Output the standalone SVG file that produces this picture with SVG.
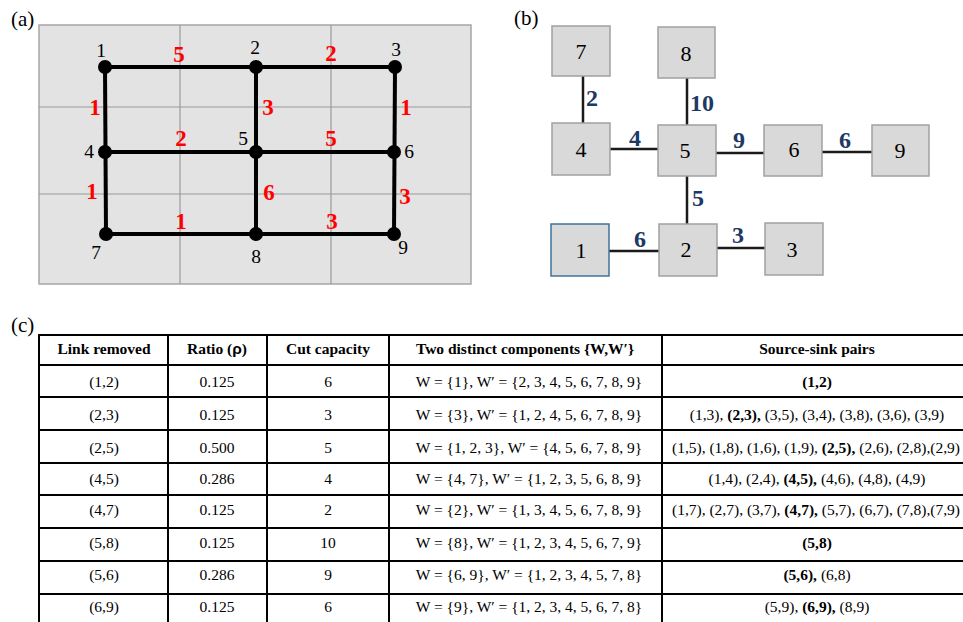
<svg xmlns="http://www.w3.org/2000/svg" width="963" height="622" viewBox="0 0 963 622">
<style>
.t{font-family:"Liberation Serif","Times New Roman",serif;fill:#000}
.pl{font-size:21px}
.nl{font-size:19.5px}
.rl{font-size:23px;font-weight:bold;fill:#ff0000}
.bl{font-size:24px;font-weight:bold;fill:#203864}
.bx{fill:#d9d9d9;stroke:#a0a0a0;stroke-width:1.5}
.bn{font-size:22px;text-anchor:middle}
.e{stroke:#000;stroke-width:4;fill:none}
.eb{stroke:#1a1a1a;stroke-width:2.5;fill:none}
.g{stroke:#9a9a9a;stroke-width:1.2}
.tl{stroke:#000;stroke-width:2;fill:none}
.th{font-size:15.5px;font-weight:bold;text-anchor:middle}
.td{font-size:15.5px;text-anchor:middle}
.b{font-weight:bold}
</style>
<rect width="963" height="622" fill="#fff"/>
<!-- Panel (a) -->
<text class="t pl" x="11" y="26">(a)</text>
<g id="grid-a">
<rect x="39" y="25" width="432" height="259" fill="#e3e3e3" stroke="#a6a6a6" stroke-width="1.5"/>
<line class="g" x1="180" y1="25" x2="180" y2="284"/>
<line class="g" x1="331" y1="25" x2="331" y2="284"/>
<line class="g" x1="39" y1="107" x2="471" y2="107"/>
<line class="g" x1="39" y1="194" x2="471" y2="194"/>
</g>
<g id="connectors-a">
<line class="e" x1="105" y1="67" x2="395" y2="67"/>
<line class="e" x1="105" y1="152" x2="394" y2="152"/>
<line class="e" x1="106" y1="234" x2="394" y2="234"/>
<line class="e" x1="105" y1="67" x2="106" y2="234"/>
<line class="e" x1="256" y1="67" x2="256" y2="234"/>
<line class="e" x1="395" y1="67" x2="394" y2="234"/>
<g class="t rl" text-anchor="middle">
<text x="179" y="62">5</text>
<text x="331" y="61">2</text>
<text x="95" y="115">1</text>
<text x="268" y="115">3</text>
<text x="406" y="115">1</text>
<text x="181" y="146">2</text>
<text x="331" y="146">5</text>
<text x="92" y="199">1</text>
<text x="269" y="200">6</text>
<text x="405" y="204">3</text>
<text x="181" y="229">1</text>
<text x="332" y="229">3</text>
</g>
</g>
<g id="a-node1"><circle cx="105" cy="67" r="7"/><text class="t nl" x="101" y="57" text-anchor="middle">1</text></g>
<g id="a-node2"><circle cx="256" cy="67" r="7"/><text class="t nl" x="255" y="54" text-anchor="middle">2</text></g>
<g id="a-node3"><circle cx="395" cy="67" r="7"/><text class="t nl" x="396" y="56" text-anchor="middle">3</text></g>
<g id="a-node4"><circle cx="105" cy="152" r="7"/><text class="t nl" x="89" y="158" text-anchor="middle">4</text></g>
<g id="a-node5"><circle cx="256" cy="152" r="7"/><text class="t nl" x="243" y="145" text-anchor="middle">5</text></g>
<g id="a-node6"><circle cx="394" cy="152" r="7"/><text class="t nl" x="409" y="158" text-anchor="middle">6</text></g>
<g id="a-node7"><circle cx="106" cy="234" r="7"/><text class="t nl" x="96" y="259" text-anchor="middle">7</text></g>
<g id="a-node8"><circle cx="256" cy="234" r="7"/><text class="t nl" x="256" y="263" text-anchor="middle">8</text></g>
<g id="a-node9"><circle cx="394" cy="234" r="7"/><text class="t nl" x="403" y="254" text-anchor="middle">9</text></g>
<!-- Panel (b) -->
<text class="t pl" x="514" y="25">(b)</text>
<g id="connectors-b">
<line class="eb" x1="583" y1="76" x2="583" y2="123"/>
<line class="eb" x1="687" y1="78" x2="687" y2="125"/>
<line class="eb" x1="610" y1="149" x2="658" y2="149"/>
<line class="eb" x1="716" y1="153" x2="764" y2="153"/>
<line class="eb" x1="822" y1="152" x2="872" y2="152"/>
<line class="eb" x1="687" y1="176" x2="687" y2="224"/>
<line class="eb" x1="609" y1="251" x2="659" y2="251"/>
<line class="eb" x1="717" y1="248" x2="765" y2="248"/>
<g class="t bl" text-anchor="middle">
<text x="592" y="106">2</text>
<text x="702" y="111">10</text>
<text x="635" y="146">4</text>
<text x="739" y="148">9</text>
<text x="845" y="148">6</text>
<text x="698" y="206">5</text>
<text x="640" y="247">6</text>
<text x="738" y="243">3</text>
</g>
</g>
<g id="b-node7"><rect class="bx" x="552" y="26" width="58" height="50"/><text class="t bn" x="581" y="59">7</text></g>
<g id="b-node8"><rect class="bx" x="658" y="27" width="57" height="51"/><text class="t bn" x="686" y="61">8</text></g>
<g id="b-node4"><rect class="bx" x="552" y="123" width="58" height="52"/><text class="t bn" x="581" y="157">4</text></g>
<g id="b-node5"><rect class="bx" x="658" y="125" width="58" height="51"/><text class="t bn" x="685" y="158">5</text></g>
<g id="b-node6"><rect class="bx" x="764" y="125" width="58" height="51"/><text class="t bn" x="794" y="157">6</text></g>
<g id="b-node9"><rect class="bx" x="872" y="125" width="57" height="51"/><text class="t bn" x="900" y="158">9</text></g>
<g id="b-node1"><rect x="551" y="224" width="58" height="52" fill="#d9d9d9" stroke="#41719c" stroke-width="1.5"/><text class="t bn" x="581" y="258">1</text></g>
<g id="b-node2"><rect class="bx" x="659" y="224" width="58" height="52" /><text class="t bn" x="686" y="257">2</text></g>
<g id="b-node3"><rect class="bx" x="765" y="223" width="58" height="52"/><text class="t bn" x="792" y="257">3</text></g>
<!-- Panel (c) -->
<text class="t pl" x="11" y="332">(c)</text>
<g id="table">
<g class="tl">
<line x1="38" y1="335" x2="963" y2="335"/>
<line x1="38" y1="365" x2="963" y2="365"/>
<line x1="38" y1="397" x2="963" y2="397"/>
<line x1="38" y1="430" x2="963" y2="430"/>
<line x1="38" y1="463" x2="963" y2="463"/>
<line x1="38" y1="495" x2="963" y2="495"/>
<line x1="38" y1="528" x2="963" y2="528"/>
<line x1="38" y1="561" x2="963" y2="561"/>
<line x1="38" y1="594" x2="963" y2="594"/>
<line x1="39" y1="334" x2="39" y2="622"/>
<line x1="168" y1="334" x2="168" y2="622"/>
<line x1="267" y1="334" x2="267" y2="622"/>
<line x1="389" y1="334" x2="389" y2="622"/>
<line x1="662" y1="334" x2="662" y2="622"/>
</g>
<g class="t th">
<text x="104" y="354">Link removed</text>
<text x="217" y="354">Ratio (<tspan font-family="'Liberation Sans',Arial,sans-serif">ρ</tspan>)</text>
<text x="328" y="354">Cut capacity</text>
<text x="525" y="354">Two distinct components {W,W′}</text>
<text x="817" y="354">Source-sink pairs</text>
</g>
<g class="t td">
<text x="104" y="387">(1,2)</text><text x="217" y="387">0.125</text><text x="328" y="387">6</text>
<text x="529" y="387">W = {1}, W′ = {2, 3, 4, 5, 6, 7, 8, 9}</text>
<text x="817" y="387" class="b">(1,2)</text>

<text x="104" y="420">(2,3)</text><text x="217" y="420">0.125</text><text x="328" y="420">3</text>
<text x="529" y="420">W = {3}, W′ = {1, 2, 4, 5, 6, 7, 8, 9}</text>
<text x="817" y="420">(1,3), <tspan class="b">(2,3),</tspan> (3,5), (3,4), (3,8), (3,6), (3,9)</text>

<text x="104" y="452.5">(2,5)</text><text x="217" y="452.5">0.500</text><text x="328" y="452.5">5</text>
<text x="529" y="452.5">W = {1, 2, 3}, W′ = {4, 5, 6, 7, 8, 9}</text>
<text x="816" y="452.5">(1,5), (1,8), (1,6), (1,9), <tspan class="b">(2,5),</tspan> (2,6), (2,8),(2,9)</text>

<text x="104" y="483.5">(4,5)</text><text x="217" y="483.5">0.286</text><text x="328" y="483.5">4</text>
<text x="529" y="483.5">W = {4, 7}, W′ = {1, 2, 3, 5, 6, 8, 9}</text>
<text x="817" y="483.5">(1,4), (2,4), <tspan class="b">(4,5),</tspan> (4,6), (4,8), (4,9)</text>

<text x="104" y="515">(4,7)</text><text x="217" y="515">0.125</text><text x="328" y="515">2</text>
<text x="529" y="515">W = {2}, W′ = {1, 3, 4, 5, 6, 7, 8, 9}</text>
<text x="816" y="515">(1,7), (2,7), (3,7), <tspan class="b">(4,7),</tspan> (5,7), (6,7), (7,8),(7,9)</text>

<text x="104" y="548">(5,8)</text><text x="217" y="548">0.125</text><text x="328" y="548">10</text>
<text x="529" y="548">W = {8}, W′ = {1, 2, 3, 4, 5, 6, 7, 9}</text>
<text x="817" y="548" class="b">(5,8)</text>

<text x="104" y="580">(5,6)</text><text x="217" y="580">0.286</text><text x="328" y="580">9</text>
<text x="529" y="580">W = {6, 9}, W′ = {1, 2, 3, 4, 5, 7, 8}</text>
<text x="817" y="580"><tspan class="b">(5,6),</tspan> (6,8)</text>

<text x="104" y="612">(6,9)</text><text x="217" y="612">0.125</text><text x="328" y="612">6</text>
<text x="529" y="612">W = {9}, W′ = {1, 2, 3, 4, 5, 6, 7, 8}</text>
<text x="817" y="612">(5,9), <tspan class="b">(6,9),</tspan> (8,9)</text>
</g>
</g>
</svg>
